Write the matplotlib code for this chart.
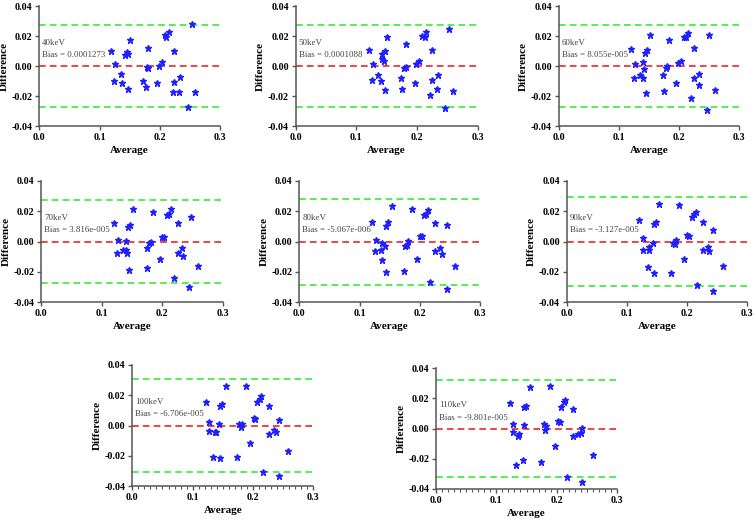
import matplotlib
matplotlib.use("Agg")
import matplotlib.pyplot as plt
import numpy as np
from matplotlib.ticker import MultipleLocator, FormatStrFormatter

plt.rcParams['font.family'] = ['Liberation Serif', 'DejaVu Serif']

# ---- data ----
labels = ["40keV", "50keV", "60keV", "70keV", "80keV", "90keV", "100keV", "110keV"]
bias_text = ["0.0001273", "0.0001088", "8.055e-005", "3.816e-005",
             "-5.067e-006", "-3.127e-005", "-6.706e-005", "-9.801e-005"]
upper_loa = [0.0276, 0.0272, 0.0271, 0.0272, 0.0281, 0.0294, 0.0305, 0.0321]
lower_loa = [-0.0271, -0.0271, -0.0271, -0.0275, -0.0286, -0.0295, -0.0308, -0.0321]

avg_40 = [0.119, 0.124, 0.126, 0.136, 0.138, 0.142, 0.146, 0.148, 0.147, 0.150,
          0.172, 0.177, 0.179, 0.180, 0.180, 0.195, 0.199, 0.203, 0.209, 0.211,
          0.215, 0.222, 0.224, 0.224, 0.232, 0.233, 0.247, 0.253, 0.258]
diff_40 = [0.0100, -0.0096, 0.0016, -0.0051, -0.0113, 0.0073, 0.0096, 0.0084, -0.0149, 0.0173,
           -0.0100, -0.0140, -0.0007, 0.0120, -0.0010, -0.0111, 0.0000, 0.0027, 0.0204, 0.0193,
           0.0229, -0.0171, -0.0104, 0.0100, -0.0171, -0.0069, -0.0271, 0.0282, -0.0171]

avg_50 = [0.120, 0.125, 0.127, 0.136, 0.140, 0.142, 0.143, 0.146, 0.147, 0.147,
          0.151, 0.173, 0.176, 0.179, 0.181, 0.182, 0.196, 0.199, 0.204, 0.209,
          0.213, 0.215, 0.222, 0.225, 0.225, 0.233, 0.234, 0.246, 0.252, 0.259]
diff_50 = [0.0107, -0.0091, 0.0016, -0.0058, -0.0096, 0.0049, 0.0084, 0.0033, 0.0104, -0.0158,
           0.0191, -0.0082, -0.0151, -0.0009, -0.0004, 0.0147, -0.0111, 0.0011, 0.0031, 0.0198,
           0.0193, 0.0227, -0.0191, -0.0091, 0.0109, -0.0151, -0.0058, -0.0276, 0.0247, -0.0164]

avg_60 = [0.1195, 0.1245, 0.127, 0.1356, 0.1395, 0.1406, 0.142, 0.1433, 0.1467, 0.1455,
          0.1516, 0.173, 0.175, 0.178, 0.180, 0.1826, 0.1953, 0.199, 0.2025, 0.208,
          0.2114, 0.215, 0.220, 0.2247, 0.225, 0.233, 0.2335, 0.2457, 0.250, 0.259]
diff_60 = [0.0111, -0.0082, 0.0016, -0.0058, 0.0029, -0.0078, -0.0020, 0.0089, 0.0109, -0.0178,
           0.0204, -0.0062, -0.0167, -0.0009, -0.0002, 0.0173, -0.0111, 0.0022, 0.0033, 0.0193,
           0.0193, 0.0220, -0.0213, -0.0082, 0.0118, -0.0051, -0.0127, -0.0289, 0.0207, -0.0160]

avg_70 = [0.1208, 0.1258, 0.1269, 0.1357, 0.1395, 0.140, 0.1412, 0.1434, 0.1473, 0.145,
          0.1522, 0.174, 0.1748, 0.1787, 0.181, 0.1848, 0.1964, 0.2002, 0.2035, 0.208,
          0.2118, 0.2151, 0.219, 0.2256, 0.2261, 0.2333, 0.235, 0.2449, 0.2477, 0.2592]
diff_70 = [0.0121, -0.0073, 0.0013, -0.0055, 0.0004, -0.0059, -0.0077, 0.0095, 0.0112, -0.0189,
           0.0214, -0.0042, -0.0178, -0.0011, -0.0002, 0.0194, -0.0115, 0.0029, 0.0033, 0.0178,
           0.0183, 0.0214, -0.0240, -0.0073, 0.0123, -0.0046, -0.0099, -0.0302, 0.0159, -0.0163]

avg_80 = [0.120, 0.1256, 0.1267, 0.1356, 0.1378, 0.1378, 0.1422, 0.1439, 0.1472, 0.1444,
          0.1533, 0.1732, 0.1749, 0.1782, 0.1804, 0.1865, 0.1954, 0.1998, 0.2031, 0.207,
          0.2108, 0.2142, 0.2175, 0.2258, 0.2258, 0.2335, 0.2363, 0.2446, 0.2457, 0.259]
diff_80 = [0.0130, -0.0064, 0.0013, -0.0055, -0.0123, -0.0013, -0.0033, 0.0104, 0.0126, -0.0200,
           0.0236, -0.0192, -0.0029, -0.0020, 0.0004, 0.0218, -0.0115, 0.0035, 0.0037, 0.0172,
           0.0183, 0.0205, -0.0267, -0.0066, 0.0123, -0.0040, -0.0081, -0.0315, 0.0112, -0.0163]

avg_90 = [0.1206, 0.1262, 0.1273, 0.1356, 0.1367, 0.1367, 0.1428, 0.1444, 0.1478, 0.1444,
          0.1538, 0.1732, 0.1771, 0.1793, 0.1815, 0.1871, 0.1954, 0.2003, 0.2037, 0.2075,
          0.2114, 0.2142, 0.2169, 0.2263, 0.2258, 0.2341, 0.2369, 0.2435, 0.2435, 0.2595]
diff_90 = [0.0141, -0.0053, 0.0022, -0.0170, -0.0035, -0.0053, -0.0011, 0.0117, 0.0132, -0.0211,
           0.0247, -0.0207, -0.0007, -0.0015, 0.0007, 0.0240, -0.0115, 0.0044, 0.0037, 0.0161,
           0.0183, 0.0198, -0.0286, -0.0055, 0.0130, -0.0035, -0.0064, -0.0326, 0.0073, -0.0163]

avg_100 = [0.1221, 0.1276, 0.1276, 0.1337, 0.137, 0.1381, 0.1442, 0.1448, 0.1453, 0.1486,
           0.1547, 0.1735, 0.1773, 0.1796, 0.1812, 0.1884, 0.1956, 0.2011, 0.2039, 0.2072,
           0.2116, 0.2138, 0.216, 0.2265, 0.226, 0.2343, 0.2387, 0.2425, 0.2425, 0.2586]
diff_100 = [0.0156, 0.0026, -0.0037, -0.0205, -0.0046, -0.0044, 0.0007, -0.0214, 0.0128, 0.0145,
            0.0262, -0.0211, 0.0007, -0.0013, 0.0007, 0.0262, -0.0115, 0.0048, 0.0040, 0.0154,
            0.0174, 0.0198, -0.0308, -0.0055, 0.0132, -0.0033, -0.0046, -0.0337, 0.0037, -0.0167]

avg_110 = [0.1231, 0.1281, 0.1281, 0.132, 0.1364, 0.1381, 0.1442, 0.1453, 0.1464, 0.1497,
           0.1564, 0.1736, 0.1786, 0.1808, 0.1825, 0.1897, 0.1969, 0.2024, 0.2052, 0.2074,
           0.2124, 0.2146, 0.2169, 0.2274, 0.2268, 0.2363, 0.2402, 0.2418, 0.2429, 0.2601]
diff_110 = [0.0170, 0.0033, -0.0022, -0.0241, -0.0053, -0.0038, -0.0212, 0.0022, 0.0142, 0.0150,
            0.0279, -0.0221, 0.0029, -0.0011, 0.0015, 0.0281, -0.0113, 0.0053, 0.0044, 0.0146,
            0.0175, 0.0190, -0.0323, -0.0049, 0.0131, -0.0035, -0.0029, 0.0002, -0.0354, -0.0173]

averages = [avg_40, avg_50, avg_60, avg_70, avg_80, avg_90, avg_100, avg_110]
differences = [diff_40, diff_50, diff_60, diff_70, diff_80, diff_90, diff_100, diff_110]
x_ticks = [0.0, 0.1, 0.2, 0.3]
y_ticks = [-0.04, -0.02, 0.00, 0.02, 0.04]

# ---- layout (pixel boxes: left, top, right, bottom) ----
W, H = 754, 521
boxes = [(39.3, 6, 220, 126.3), (295.7, 6, 477.7, 126.3), (558.7, 6, 739.3, 126.3),
         (41.3, 181, 222.7, 302), (299.3, 181, 480, 302), (566.7, 181, 747.3, 302),
         (132.3, 365, 313.3, 486), (436.3, 368.3, 616.7, 488.7)]
minor_x = [False] * 6 + [True, True]

fig = plt.figure(figsize=(W / 100, H / 100), dpi=100)
spine_col = '#555555'
dash = (0, (4, 2.5))
for i in range(8):
    l, t, r, b = boxes[i]
    ax = fig.add_axes([l / W, 1 - b / H, (r - l) / W, (b - t) / H])
    ax.set_xlim(0, 0.3)
    ax.set_ylim(-0.04, 0.04)
    ax.axhline(upper_loa[i], color='#33ee33', lw=1.2, ls=dash, zorder=1)
    ax.axhline(lower_loa[i], color='#33ee33', lw=1.2, ls=dash, zorder=1)
    ax.axhline(0, color='#ee2222', lw=1.2, ls=dash, zorder=1)
    ax.plot(averages[i], differences[i], ls='none', marker='*', ms=4.6,
            color='#1f1fff', mec='#1f1fff', zorder=3)
    for s in ['top', 'right']:
        ax.spines[s].set_visible(False)
    for s in ['left', 'bottom']:
        ax.spines[s].set_color(spine_col)
        ax.spines[s].set_linewidth(1.1)
    ax.set_xticks(x_ticks)
    ax.set_yticks(y_ticks)
    ax.xaxis.set_major_formatter(FormatStrFormatter('%.1f'))
    ax.yaxis.set_major_formatter(FormatStrFormatter('%.2f'))
    if minor_x[i]:
        ax.xaxis.set_minor_locator(MultipleLocator(0.01))
    ax.tick_params(which='major', length=3, width=1.0, color=spine_col, pad=2,
                   labelsize=7.2)
    ax.tick_params(which='minor', length=2, width=0.8, color=spine_col)
    for lab in ax.get_xticklabels() + ax.get_yticklabels():
        lab.set_fontweight('bold')
    ax.set_xlabel('Average', fontsize=8, fontweight='bold', labelpad=3)
    ax.set_ylabel('Difference', fontsize=8, fontweight='bold', labelpad=2)
    ax.text(0.005, 0.0153, labels[i], fontsize=6.4, color='#444444', va='center')
    ax.text(0.005, 0.0073, 'Bias = ' + bias_text[i], fontsize=6.4, color='#444444',
            va='center')
    ax.patch.set_alpha(0)

fig.savefig('out.png', dpi=100)
